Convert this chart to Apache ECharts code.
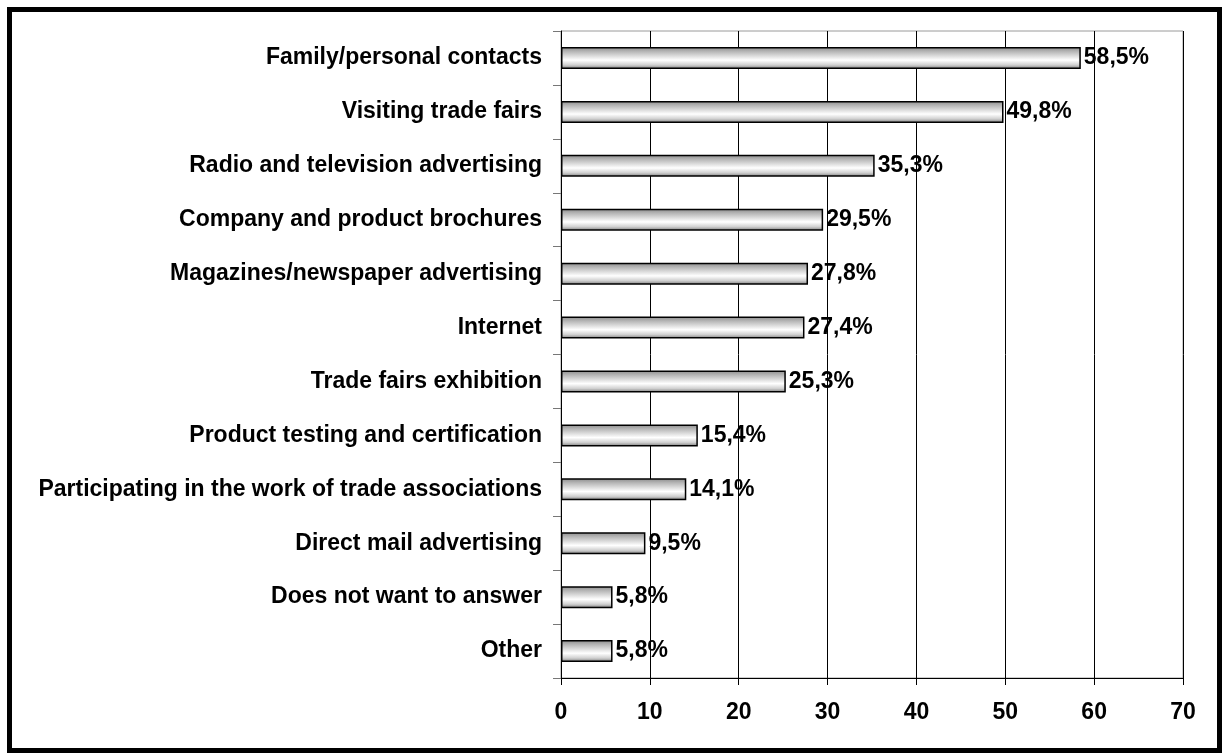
<!DOCTYPE html>
<html>
<head>
<meta charset="utf-8">
<script src="https://cdn.jsdelivr.net/npm/echarts@6/dist/echarts.min.js"></script>
<style>
html,body{margin:0;padding:0;background:#fff;}
#chart{width:1222px;height:753px;}
</style>
</head>
<body>
<div id="chart"></div>
<script>
const categories = [
  "Family/personal contacts",
  "Visiting trade fairs",
  "Radio and television advertising",
  "Company and product brochures",
  "Magazines/newspaper advertising",
  "Internet",
  "Trade fairs exhibition",
  "Product testing and certification",
  "Participating in the work of trade associations",
  "Direct mail advertising",
  "Does not want to answer",
  "Other"
];
const values = [58.5, 49.8, 35.3, 29.5, 27.8, 27.4, 25.3, 15.4, 14.1, 9.5, 5.8, 5.8];
const xTicks = { min: 0, max: 70, interval: 10 };

const chart = echarts.init(document.getElementById('chart'), null, { renderer: 'canvas' });
const font = '"Liberation Sans", Arial, sans-serif';
chart.setOption({
  animation: false,
  backgroundColor: '#fff',
  graphic: [{
    type: 'rect',
    shape: { x: 9.5, y: 9.5, width: 1210, height: 741 },
    style: { fill: 'none', stroke: '#000', lineWidth: 5 },
    z: 100
  }],
  grid: {
    left: 561, right: 39, top: 31, bottom: 75,
    show: true, borderColor: '#9a9a9a', borderWidth: 1, backgroundColor: '#fff'
  },
  xAxis: {
    type: 'value',
    min: xTicks.min, max: xTicks.max, interval: xTicks.interval,
    axisLine: { show: true, lineStyle: { color: '#000', width: 1 } },
    axisTick: { show: true, length: 7, lineStyle: { color: '#000' } },
    splitLine: { show: true, lineStyle: { color: '#000', width: 1 } },
    axisLabel: { color: '#000', fontFamily: font, fontWeight: 'bold', fontSize: 23, margin: 23 }
  },
  yAxis: {
    type: 'category',
    inverse: true,
    data: categories,
    axisLine: { show: true, lineStyle: { color: '#000', width: 1 } },
    axisTick: { show: true, length: 8, lineStyle: { color: '#777' } },
    axisLabel: { color: '#000', fontFamily: font, fontWeight: 'bold', fontSize: 23, margin: 19 }
  },
  series: [{
    type: 'bar',
    data: values,
    barWidth: 22,
    itemStyle: {
      color: new echarts.graphic.LinearGradient(0, 0, 0, 1, [
        { offset: 0, color: '#8a8a8a' },
        { offset: 0.2, color: '#b5b5b5' },
        { offset: 0.6, color: '#ffffff' },
        { offset: 0.82, color: '#d0d0d0' },
        { offset: 1, color: '#7a7a7a' }
      ]),
      borderColor: '#000',
      borderWidth: 1.5
    },
    label: {
      show: true,
      position: 'right',
      distance: 3,
      color: '#000',
      fontFamily: font,
      fontWeight: 'bold',
      fontSize: 23,
      formatter: p => p.value.toFixed(1).replace('.', ',') + '%'
    }
  }]
});
</script>
</body>
</html>
